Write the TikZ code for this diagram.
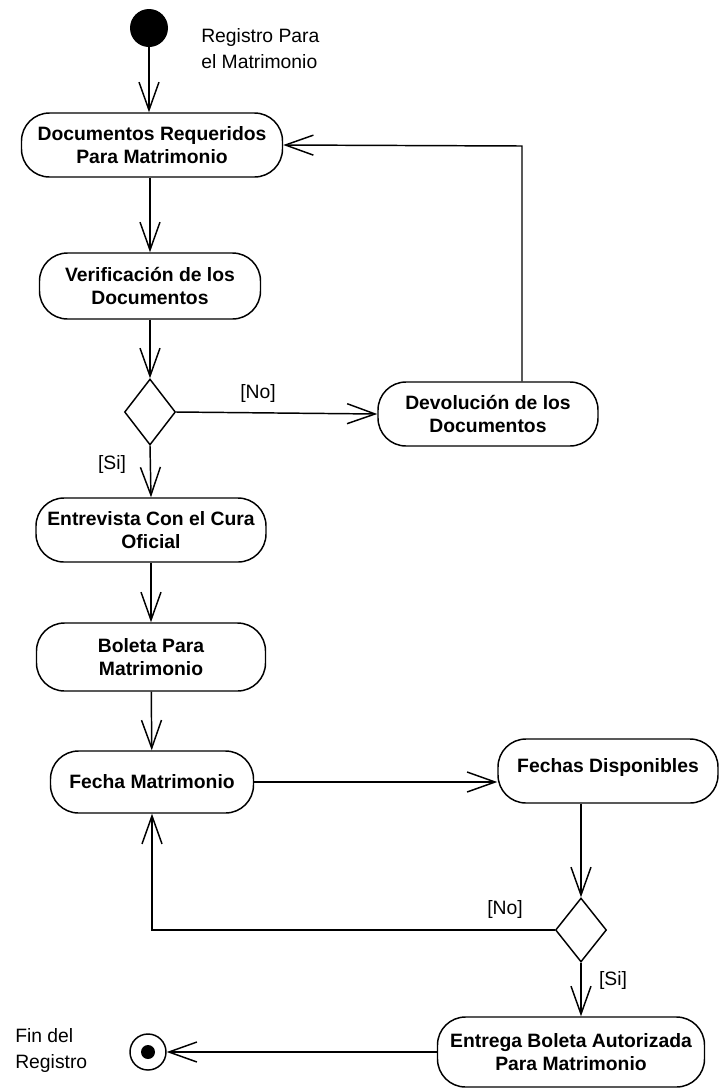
\documentclass[tikz,border=0pt]{standalone}
\usepackage{fontspec}
\setmainfont{Liberation Sans}
\usetikzlibrary{arrows.meta,shapes.geometric,positioning}

\begin{document}
\begin{tikzpicture}[x=0.75pt,y=-0.75pt,
   >={Straight Barb[length=21pt,width=15pt]},
   act/.style={rectangle,draw,rounded corners=21pt,line width=1.1pt,align=center,inner sep=0pt,
     font=\fontsize{14.5pt}{17.5pt}\selectfont\bfseries},
   dec/.style={diamond,draw,line width=1.1pt,inner sep=0pt,minimum width=38.25pt},
   ini/.style={circle,fill=black,minimum size=28.5pt,inner sep=0pt},
   fin/.style={circle,draw,line width=1.1pt,minimum size=27pt,inner sep=0pt},
   edge/.style={->,line width=1.1pt},
   every node/.style={font=\fontsize{14.5pt}{19.5pt}\selectfont}]
  \useasboundingbox (0,0) rectangle (720,1090);
  % start and end
  \node[ini] (start) at (149,28) {};
  \node[fin] (stop) at (148,1052) {};
  \node[circle,fill=black,minimum size=10.5pt,inner sep=0pt] (stopdot) at (stop) {};
  \node[anchor=west,align=left,inner sep=0pt] (startlbl) at (201,49) {Registro Para\\el Matrimonio};
  \node[anchor=west,align=left,inner sep=0pt] (stoplbl) at (15,1050) {Fin del\\Registro};
  % activities
  \node[act,minimum width=195.75pt,minimum height=48pt] (doc) at (152,145) {Documentos Requeridos\\Para Matrimonio};
  \node[act,minimum width=165.75pt,minimum height=49.5pt] (ver) at (150,286) {Verificación de los\\Documentos};
  \node[act,minimum width=165pt,minimum height=48pt] (dev) at (488,414) {Devolución de los\\Documentos};
  \node[act,minimum width=172.5pt,minimum height=48pt] (ent) at (151,530) {Entrevista Con el Cura\\Oficial};
  \node[act,minimum width=171.75pt,minimum height=51pt] (bol) at (151,657) {Boleta Para\\Matrimonio};
  \node[act,minimum width=152.25pt,minimum height=46.5pt] (fec) at (152,782) {Fecha Matrimonio};
  \node[act,minimum width=165pt,minimum height=48pt] (fds) at (608,771) {Fechas Disponibles\rule[-9pt]{0pt}{9pt}};
  \node[act,minimum width=200.25pt,minimum height=52.5pt] (ebo) at (571,1052) {Entrega Boleta Autorizada\\Para Matrimonio};
  % decisions
  \node[dec,minimum height=49.5pt] (d1) at (150,412) {};
  \node[dec,minimum height=48pt] (d2) at (581,930) {};
  \coordinate (turn) at (522,146);
  % flows
  \draw[edge] (start) -- (start |- doc.north);
  \draw[edge] (ver.north |- doc.south) -- (ver.north);
  \draw[edge] (ver) -- (d1);
  \draw[edge] (d1.east) -- (dev.west);
  \draw[edge] (turn |- dev.north) -- (turn) -- (doc.east);
  \draw[edge] (d1.south) -- (ent.north);
  \draw[edge] (ent) -- (bol);
  \draw[edge] (bol) -- (fec);
  \draw[edge] (fec.east) -- (fec.east -| fds.west);
  \draw[edge] (d2.north |- fds.south) -- (d2.north);
  \draw[edge] (d2.west) -- (fec.south |- d2.west) -- (fec.south);
  \draw[edge] (d2.south) -- (d2.south |- ebo.north);
  \draw[edge] (ebo.west |- stop) -- (stop);
  % guards
  \node (no1) at (258,393) {[No]};
  \node (si1) at (112,464) {[Si]};
  \node (no2) at (505,909) {[No]};
  \node (si2) at (613,980) {[Si]};
\end{tikzpicture}
\end{document}
